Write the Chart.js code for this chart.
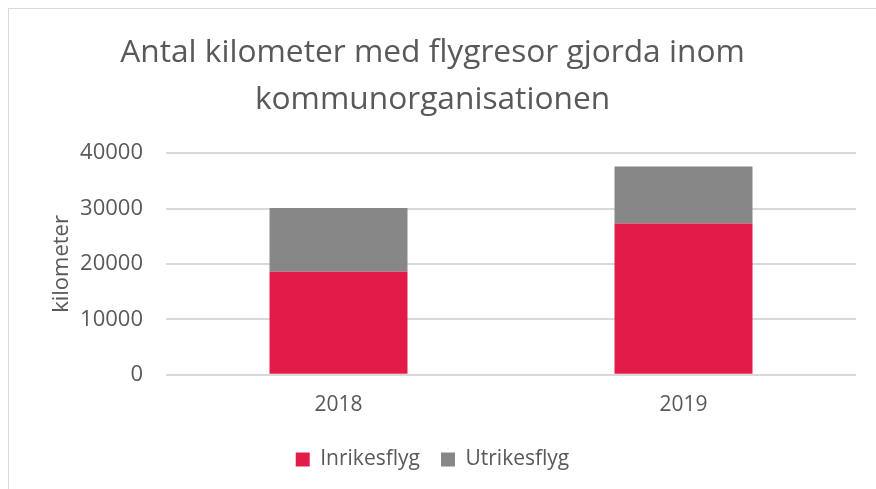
<!DOCTYPE html>
<html>
<head>
<meta charset="utf-8">
<script src="https://cdn.jsdelivr.net/npm/chart.js@4"></script>
<style>
  html, body { margin: 0; padding: 0; background: #fff; }
  #frame { position: absolute; left: 8px; top: 8px; width: 900px; height: 520px; border: 1px solid #d9d9d9; box-sizing: border-box; }
  #wrap { position: absolute; left: 0; top: 0; width: 876px; height: 489px; }
</style>
</head>
<body>
<div id="frame"></div>
<div id="wrap"><canvas id="c" width="876" height="489"></canvas></div>
<script>
  // värden
  var years = ["2018", "2019"];
  var inrikes = [18600, 27300];
  var utrikes = [11500, 10300];
  var yTicks = [0, 10000, 20000, 30000, 40000];

  var TXT = "#595959", FONT = "'Open Sans'";

  new Chart(document.getElementById("c"), {
    type: "bar",
    data: {
      labels: years,
      datasets: [
        { label: "Inrikesflyg", data: inrikes, backgroundColor: "#e31b48", borderWidth: 0 },
        { label: "Utrikesflyg", data: utrikes, backgroundColor: "#878787", borderWidth: 0 }
      ]
    },
    options: {
      responsive: false, animation: false,
      layout: { padding: { left: 9, right: 20, top: 0, bottom: 9 } },
      datasets: { bar: { categoryPercentage: 1, barPercentage: 0.4 } },
      plugins: {
        title: {
          display: true,
          text: ["Antal kilometer med flygresor gjorda inom", "kommunorganisationen"],
          color: TXT, font: { family: FONT, size: 31.7, weight: "normal", lineHeight: 1.5 },
          padding: { top: 29, bottom: 29 }
        },
        legend: {
          position: "bottom",
          labels: { color: TXT, font: { family: FONT, size: 21 }, boxWidth: 14, boxHeight: 14, padding: 21 }
        },
        tooltip: { enabled: false }
      },
      scales: {
        x: {
          stacked: true,
          grid: { display: false },
          border: { display: false },
          ticks: { color: TXT, font: { family: FONT, size: 21 }, padding: 10 }
        },
        y: {
          stacked: true, min: 0, max: 40000,
          afterBuildTicks: function (s) { s.ticks = yTicks.map(function (v) { return { value: v }; }); },
          afterFit: function (s) { s.width = 157; },
          grid: { color: "#d9d9d9", lineWidth: 2, drawTicks: false },
          border: { display: false },
          ticks: { color: TXT, font: { family: FONT, size: 22 }, padding: 23, callback: function (v) { return String(v); } },
          title: { display: true, text: "kilometer", color: TXT, font: { family: FONT, size: 22 }, padding: { top: 40, bottom: 0 } }
        }
      }
    }
  });
</script>
</body>
</html>
